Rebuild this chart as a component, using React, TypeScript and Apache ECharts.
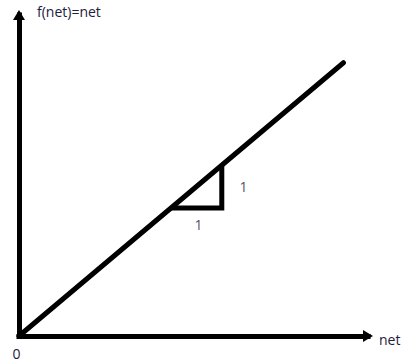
import React, { useEffect, useRef } from "react";
import * as echarts from "echarts";

// f(net) = net : identity line (drawn in data units)
const identityLine: number[][] = [
  [0, 0],
  [6.4, 6.4],
];
// unit slope triangle
const slopeTriangle: number[][] = [
  [3, 3],
  [4, 3],
  [4, 4],
];
// "1" annotations (rise / run)
const slopeLabelPoints: number[][] = [
  [4.43, 3.51],
  [3.54, 2.62],
];
const slopeLabelTexts: string[] = ["1", "1"];
const yAxisTitle = "f(net)=net";
const xAxisTitle = "net";
const originLabel = "0";

const X_MAX = 6.884;
const Y_MAX = 7.518;

export default function App() {
  const ref = useRef<HTMLDivElement>(null);
  useEffect(() => {
    document.body.style.margin = "0";
    if (!ref.current) return;
    const chart = echarts.init(ref.current, undefined, { renderer: "svg" });
    const textColor = "#1e2040";
    const font = "Open Sans";
    const axisCommon = {
      type: "value" as const,
      min: 0,
      axisLine: {
        show: true,
        symbol: ["none", "triangle"],
        symbolSize: [12, 10],
        lineStyle: { color: "#000", width: 5, cap: "square" },
      },
      axisTick: { show: false },
      axisLabel: { show: false },
      splitLine: { show: false },
    };
    chart.setOption({
      animation: false,
      backgroundColor: "#fff",
      grid: { left: 19, top: 15, width: 349, height: 321 },
      xAxis: { ...axisCommon, max: X_MAX },
      yAxis: { ...axisCommon, max: Y_MAX },
      series: [
        {
          type: "line",
          data: identityLine,
          symbol: "none",
          clip: false,
          lineStyle: { color: "#000", width: 5, cap: "round" },
        },
        {
          type: "line",
          data: slopeTriangle,
          symbol: "none",
          clip: false,
          lineStyle: { color: "#000", width: 5, join: "miter", cap: "butt" },
        },
        {
          type: "scatter",
          data: slopeLabelPoints.map((p, i) => ({ value: p, name: slopeLabelTexts[i] })),
          symbolSize: 1,
          clip: false,
          itemStyle: { color: "rgba(0,0,0,0)" },
          label: {
            show: true,
            position: "inside",
            formatter: (p: any) => p.name,
            color: textColor,
            textBorderWidth: 0,
            fontFamily: font,
            fontSize: 14,
          },
        },
      ],
      graphic: [
        {
          type: "text",
          left: 37,
          top: 4,
          style: { text: yAxisTitle, fill: textColor, font: `14px "${font}"` },
        },
        {
          type: "text",
          x: 379,
          y: 339,
          style: {
            text: xAxisTitle,
            fill: textColor,
            font: `14px "${font}"`,
            verticalAlign: "middle",
          },
        },
        {
          type: "text",
          x: 16.5,
          y: 353,
          style: {
            text: originLabel,
            fill: textColor,
            font: `14px "${font}"`,
            align: "center",
            verticalAlign: "middle",
          },
        },
      ],
    });
    return () => chart.dispose();
  }, []);
  return <div ref={ref} style={{ width: 401, height: 362 }} />;
}
